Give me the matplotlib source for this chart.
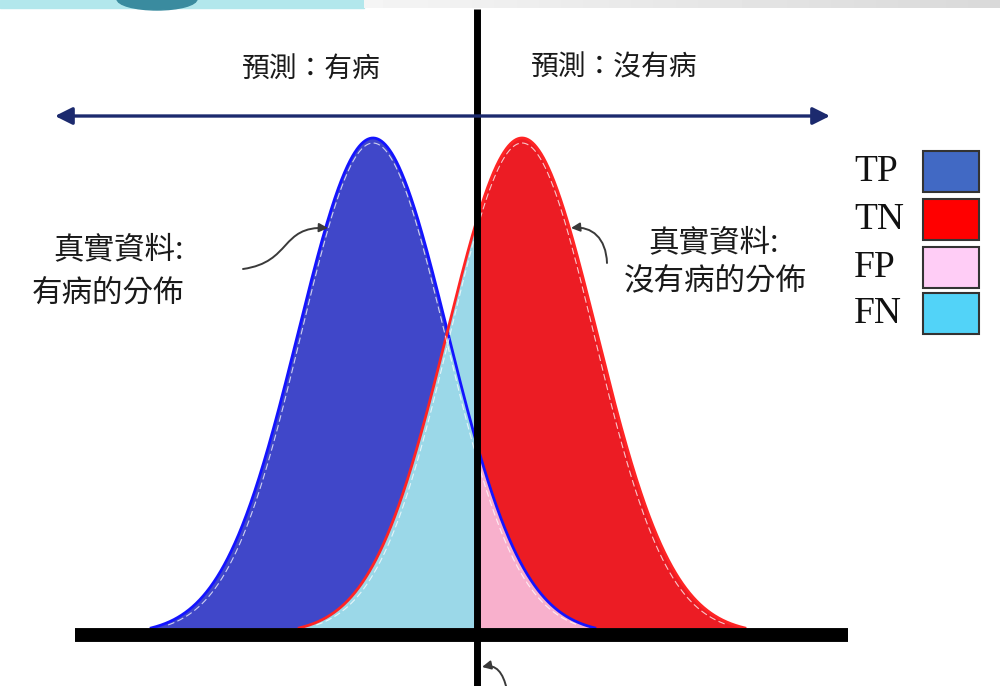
import numpy as np
import matplotlib
matplotlib.use("Agg")
import matplotlib.pyplot as plt
from matplotlib.patches import Rectangle, Ellipse, FancyArrowPatch
from matplotlib.path import Path

# ---------------- data ----------------
dist_names = ["有病", "沒有病"]
dist_means = [373, 522]          # centre of each distribution (x units)
dist_sigma = [75, 75]            # spread of each distribution
dist_halfwidth = [222, 223]      # where each curve meets the baseline
peak_height = 490                # peak height above baseline
threshold = 477                  # decision threshold
baseline_y = 628

top_labels = ["預測：有病", "預測：沒有病"]
left_label = ["真實資料:", "有病的分佈"]
right_label = ["真實資料:", "沒有病的分佈"]

legend_labels = ["TP", "TN", "FP", "FN"]
legend_colors = ["#4169c4", "#ff0000", "#ffcdf6", "#52d3f8"]

fill_tp = "#4047c9"
fill_tn = "#ec1c24"
fill_fp = "#f8b0cc"
fill_fn = "#9bd8e8"

plt.rcParams['font.family'] = ['Noto Sans CJK TC', 'DejaVu Sans']

fig = plt.figure(figsize=(10, 6.86), dpi=100)
ax = fig.add_axes([0, 0, 1, 1])
ax.set_xlim(0, 1000)
ax.set_ylim(686, 0)
ax.axis("off")

# top banner decoration
ax.add_patch(Rectangle((0, 0), 364, 8, color="#b2e7ec", zorder=1))
ax.add_patch(Ellipse((157, -1), 80, 22, color="#3a8b9f", zorder=2))
grad = np.linspace(0.96, 0.85, 200).reshape(1, -1)
ax.imshow(grad, extent=(364, 1000, 8, 0), cmap="gray", vmin=0, vmax=1,
          aspect="auto", zorder=1)

x = np.linspace(140, 760, 3000)
def curve(mu, s, hw):
    g = np.exp(-(x - mu) ** 2 / (2 * s ** 2))
    g0 = np.exp(-hw ** 2 / (2 * s ** 2))
    return peak_height * np.clip((g - g0) / (1 - g0), 0, None)

hb = curve(dist_means[0], dist_sigma[0], dist_halfwidth[0])
hr = curve(dist_means[1], dist_sigma[1], dist_halfwidth[1])
yb = baseline_y - hb
yr = baseline_y - hr
left = x <= threshold
right = x >= threshold

# fills (y inverted: smaller y is higher)
ax.fill_between(x, baseline_y, yr, where=left, color=fill_fn, lw=0, zorder=3)
ax.fill_between(x, yr, yb, where=left & (hb > hr), color=fill_tp, lw=0,
                zorder=3, interpolate=True)
ax.fill_between(x, baseline_y, yb, where=right, color=fill_fp, lw=0, zorder=3)
ax.fill_between(x, yb, yr, where=right & (hr > hb), color=fill_tn, lw=0,
                zorder=3, interpolate=True)

# outlines
mb = hb > 0
mr = hr > 0
ax.plot(x[mb], yb[mb], color="#1414ff", lw=2.0, zorder=4)
ax.plot(x[mr], yr[mr], color="#ff2424", lw=2.0, zorder=4)
# faint inner white dashes
for mu, s, hw in zip(dist_means, dist_sigma, dist_halfwidth):
    g = np.exp(-(x - mu) ** 2 / (2 * (s * 0.965) ** 2))
    g0 = np.exp(-(hw * 0.97) ** 2 / (2 * (s * 0.965) ** 2))
    yi = baseline_y - (peak_height - 5) * np.clip((g - g0) / (1 - g0), 0, None)
    m = yi < baseline_y - 3
    ax.plot(x[m], yi[m], color="white", lw=0.8, ls=(0, (6, 3)), alpha=0.75, zorder=4)

# baseline and threshold
ax.plot([75, 848], [635, 635], color="black", lw=10, solid_capstyle="butt", zorder=5)
ax.plot([threshold, threshold], [9, 686], color="black", lw=5, solid_capstyle="butt", zorder=6)

# double arrow
ax.annotate("", xy=(55, 116), xytext=(830, 116),
            arrowprops=dict(arrowstyle="<|-|>", color="#1c2a6e", lw=2.4,
                            mutation_scale=26, shrinkA=0, shrinkB=0), zorder=6)

# labels
tc = "#1a1a1a"
ax.text(311, 70, top_labels[0], fontsize=20, ha="center", va="center", color=tc)
ax.text(614, 67, top_labels[1], fontsize=20, ha="center", va="center", color=tc)

ax.text(184, 250, left_label[0], fontsize=22, ha="right", va="center", color=tc)
ax.text(184, 293, left_label[1], fontsize=22, ha="right", va="center", color=tc)
ax.text(713, 243, right_label[0], fontsize=22, ha="center", va="center", color=tc)
ax.text(715, 281, right_label[1], fontsize=22, ha="center", va="center", color=tc)

# curved pointer arrows
def pointer(verts):
    p = Path(verts, [Path.MOVETO, Path.CURVE4, Path.CURVE4, Path.CURVE4])
    ax.add_patch(FancyArrowPatch(path=p, arrowstyle="-|>", mutation_scale=13,
                                 color="#3a3a3a", lw=1.4, zorder=7))

pointer([(243, 269), (292, 262), (280, 226), (328, 228)])
pointer([(607, 263), (606, 238), (592, 226), (571, 228)])
pointer([(507, 690), (503, 672), (496, 664), (482, 667)])

# legend
box_tops = [151, 199, 247, 293]
for lab, col, top in zip(legend_labels, legend_colors, box_tops):
    ax.add_patch(Rectangle((923, top), 56, 41, facecolor=col, edgecolor="#333333",
                           lw=1.5, zorder=6))
    ax.text(854, top + 21, lab, fontsize=27, ha="left", va="center",
            family="Liberation Serif", color="#111111")

fig.savefig("out.png", dpi=100)
